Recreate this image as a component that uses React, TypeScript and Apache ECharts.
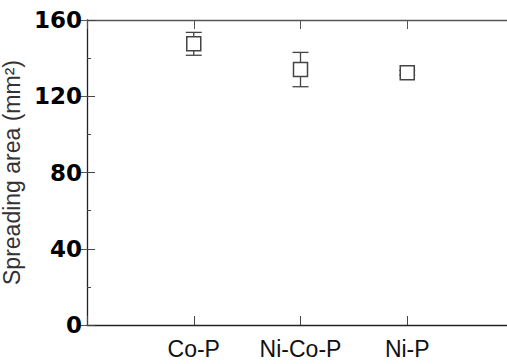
import React, { useEffect, useRef } from "react";
import * as echarts from "echarts";

const categories = ["Co-P", "Ni-Co-P", "Ni-P"];
const means = [147.5, 134, 132.3];
const errors = [6, 9, 1.2];
const yTicks = [0, 40, 80, 120, 160];

export default function App() {
  const ref = useRef<HTMLDivElement>(null);
  useEffect(() => {
    if (!ref.current) return;
    const chart = echarts.init(ref.current, null, { renderer: "svg" });
    const pts = means.map((m, i) => [i + 1, m]);
    const errData = means.map((m, i) => [i + 1, m - errors[i], m + errors[i]]);
    const font = "'Liberation Sans', Arial, sans-serif";
    chart.setOption({
      animation: false,
      backgroundColor: "#ffffff",
      grid: { left: 87, right: 6, top: 20, bottom: 39, containLabel: false, outerBoundsMode: "none" },
      xAxis: [
        {
          type: "value",
          min: 0,
          max: 4,
          interval: 1,
          position: "bottom",
          axisLine: { show: true, lineStyle: { color: "#222", width: 1.3 } },
          axisTick: { show: true, inside: true, length: 9, lineStyle: { color: "#444", width: 1 } },
          axisLabel: {
            show: true,
            margin: 12,
            fontFamily: font,
            fontSize: 23,
            color: "#111",
            formatter: (v: number) => (v >= 1 && v <= categories.length ? categories[v - 1] : ""),
          },
          splitLine: { show: false },
        },
        {
          type: "value",
          min: 0,
          max: 4,
          interval: 1,
          position: "top",
          axisLine: { show: true, onZero: false, lineStyle: { color: "#555", width: 1.3 } },
          axisTick: { show: true, inside: true, length: 9, lineStyle: { color: "#555", width: 1 } },
          axisLabel: { show: false },
          splitLine: { show: false },
        },
      ],
      yAxis: [
        {
          type: "value",
          min: yTicks[0],
          max: yTicks[yTicks.length - 1],
          interval: 40,
          position: "left",
          name: "Spreading area (mm²)",
          nameLocation: "middle",
          nameGap: 36,
          nameTextStyle: { fontFamily: font, fontSize: 23, color: "#333" },
          axisLine: { show: true, onZero: false, lineStyle: { color: "#222", width: 1.3 } },
          axisTick: { show: true, inside: true, length: 8, lineStyle: { color: "#444", width: 1 } },
          minorTick: { show: true, splitNumber: 2, length: 4, lineStyle: { color: "#444", width: 1 } },
          axisLabel: {
            show: true,
            margin: 5,
            fontFamily: "'DejaVu Sans', sans-serif",
            fontSize: 23,
            fontWeight: "bold",
            color: "#000",
          },
          splitLine: { show: false },
        },
        {
          type: "value",
          min: yTicks[0],
          max: yTicks[yTicks.length - 1],
          interval: 40,
          position: "right",
          axisLine: { show: false },
          axisTick: { show: true, inside: true, length: 8, lineStyle: { color: "#555", width: 1 } },
          axisLabel: { show: false },
          splitLine: { show: false },
        },
      ],
      series: [
        {
          type: "custom",
          xAxisIndex: 0,
          yAxisIndex: 0,
          z: 2,
          data: errData,
          renderItem: (params: any, api: any) => {
            const x = api.value(0);
            const lo = api.coord([x, api.value(1)]);
            const hi = api.coord([x, api.value(2)]);
            const hw = 8;
            const style = { stroke: "#444", lineWidth: 1.3 };
            return {
              type: "group",
              children: [
                { type: "line", shape: { x1: lo[0], y1: lo[1], x2: hi[0], y2: hi[1] }, style },
                { type: "line", shape: { x1: hi[0] - hw, y1: hi[1], x2: hi[0] + hw, y2: hi[1] }, style },
                { type: "line", shape: { x1: lo[0] - hw, y1: lo[1], x2: lo[0] + hw, y2: lo[1] }, style },
              ],
            };
          },
        },
        {
          type: "scatter",
          xAxisIndex: 0,
          yAxisIndex: 0,
          z: 3,
          symbol: "rect",
          symbolSize: 14,
          data: pts,
          itemStyle: { color: "#ffffff", borderColor: "#444", borderWidth: 1.5, opacity: 1 },
        },
      ],
    });
    return () => chart.dispose();
  }, []);
  return (
    <div
      style={{ position: "fixed", left: 0, top: 0, width: 507, height: 364, overflow: "hidden", background: "#fff" }}
    >
      <div ref={ref} style={{ width: 520, height: 364 }} />
    </div>
  );
}
